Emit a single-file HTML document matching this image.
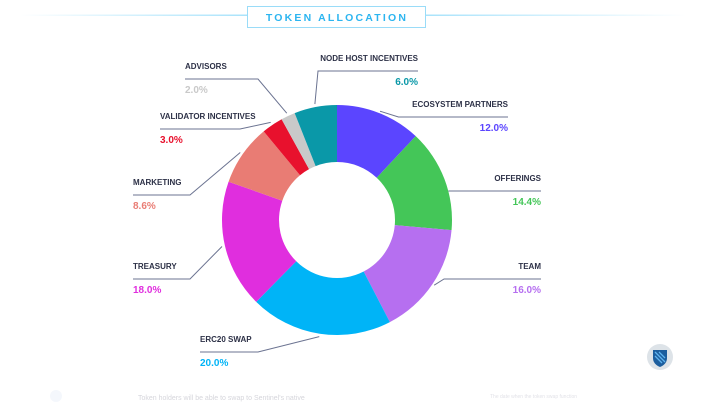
<!DOCTYPE html>
<html><head><meta charset="utf-8"><style>
body{margin:0;background:#fff;font-family:"Liberation Sans",sans-serif;}
svg{display:block}
</style></head><body>
<svg width="706" height="402">
<defs>
<linearGradient id="gl" x1="0" x2="1"><stop offset="0" stop-color="#a9e3fb" stop-opacity="0"/><stop offset="1" stop-color="#a9e3fb"/></linearGradient>
<linearGradient id="gr" x1="0" x2="1"><stop offset="0" stop-color="#a9e3fb"/><stop offset="1" stop-color="#a9e3fb" stop-opacity="0"/></linearGradient>
</defs>
<g>
<rect x="20" y="14.5" width="227" height="1.5" fill="url(#gl)"/>
<rect x="426" y="14.5" width="260" height="1.5" fill="url(#gr)"/>
<rect x="247.5" y="6.5" width="178" height="21" fill="#fff" stroke="#9adcf8" stroke-width="1"/>
<text x="337" y="21" text-anchor="middle" font-size="10.5" font-weight="bold" fill="#2cb5f0" letter-spacing="2.2">TOKEN ALLOCATION</text>
</g>
<g id="donut"></g>
<g id="labels" font-size="8" font-weight="bold"></g>
<g>
<circle cx="660" cy="357" r="13" fill="#dde3e8"/>
<path d="M653,350 h14 v8 q0,6 -7,9 q-7,-3 -7,-9z" fill="#1c5e9e"/>
<path d="M655,352 l10,10 M655,356 l7,7 M659,352 l6,6" stroke="#5fb4ef" stroke-width="1.3"/>
</g>
<g opacity="0.35">
<circle cx="56" cy="396" r="6" fill="#dfe8f5"/>
<text x="138" y="400" font-size="7" fill="#889">Token holders will be able to      swap      to Sentinel's native</text>
<text x="490" y="398" font-size="5" fill="#aab">The date when the token swap function</text>
</g>
<script>
const categories=["ECOSYSTEM PARTNERS","OFFERINGS","TEAM","ERC20 SWAP","TREASURY","MARKETING","VALIDATOR INCENTIVES","ADVISORS","NODE HOST INCENTIVES"];
const values=[12.0,14.4,16.0,20.0,18.0,8.6,3.0,2.0,6.0];
const colors=["#5b45ff","#44c658","#b66ff0","#00b4f7","#e02ede","#e97c74","#e8112d","#c9c9c9","#0a98a8"];
const labelColors=["#5b45ff","#44c658","#b66ff0","#00b4f7","#e02ede","#e97c74","#e8112d","#c9c9c9","#0a98a8"];
const cx=337,cy=220,R=115,r=58;
const ns="http://www.w3.org/2000/svg";
const donut=document.getElementById('donut');
const total=values.reduce((a,b)=>a+b,0);
function pt(a,rad){return [cx+rad*Math.sin(a),cy-rad*Math.cos(a)];}
let acc=0;const mids=[];
values.forEach((v,i)=>{
 const a0=acc/total*2*Math.PI;acc+=v;const a1=acc/total*2*Math.PI;
 mids.push((a0+a1)/2);
 const lg=(a1-a0)>Math.PI?1:0;
 const p0=pt(a0,R),p1=pt(a1,R),q1=pt(a1,r),q0=pt(a0,r);
 const p=document.createElementNS(ns,'path');
 p.setAttribute('d',`M${p0} A${R},${R} 0 ${lg} 1 ${p1} L${q1} A${r},${r} 0 ${lg} 0 ${q0}Z`);
 p.setAttribute('fill',colors[i]);
 
 
 donut.appendChild(p);
});
const layout=[[508,107,'end',395,508],[541,181,'end',440,541],[541,269,'end',440,541],[200,342,'start',200,258],[133,269,'start',133,190],[133,185,'start',133,190],[160,119,'start',160,240],[185,69,'start',185,258],[418,61,'end',318,418]];
const lab=document.getElementById('labels');
categories.forEach((c,i)=>{
 const [tx,ty,anc,lx1,lx2]=layout[i];
 const ly=ty+10;
 const right=anc==='end';
 let pts;
 if(right && i<3){
   const dy=ly-cy;const ex=cx+Math.sqrt(Math.max(0,(R+2)*(R+2)-dy*dy));
   const e=pt(mids[i],R+2);
   pts=`${e} ${ex+6},${ly} ${lx2},${ly}`;
   if(i===1) pts=`${ex-2},${ly} ${lx2},${ly}`;
 } else {
   const e=pt(mids[i],R+3);
   const elbow=right?lx1:lx2;
   pts=`${e} ${elbow},${ly} ${right?lx2:lx1},${ly}`;
 }
 const pl=document.createElementNS(ns,'polyline');
 pl.setAttribute('points',pts);
 pl.setAttribute('fill','none');pl.setAttribute('stroke','#6b7391');pl.setAttribute('stroke-width','1');
 
 
 lab.appendChild(pl);
 const t=document.createElementNS(ns,'text');
 t.setAttribute('x',tx);t.setAttribute('y',ty);t.setAttribute('text-anchor',anc);t.setAttribute('fill','#2d3147');
 t.textContent=c;
 
 
 lab.appendChild(t);
 const tv=document.createElementNS(ns,'text');
 tv.setAttribute('x',tx);tv.setAttribute('y',ly+14);tv.setAttribute('text-anchor',anc);tv.setAttribute('fill',labelColors[i]);tv.setAttribute('font-size','10');
 tv.textContent=values[i].toFixed(1)+'%';
 
 
 lab.appendChild(tv);
});
</script>
</svg>
</body></html>
